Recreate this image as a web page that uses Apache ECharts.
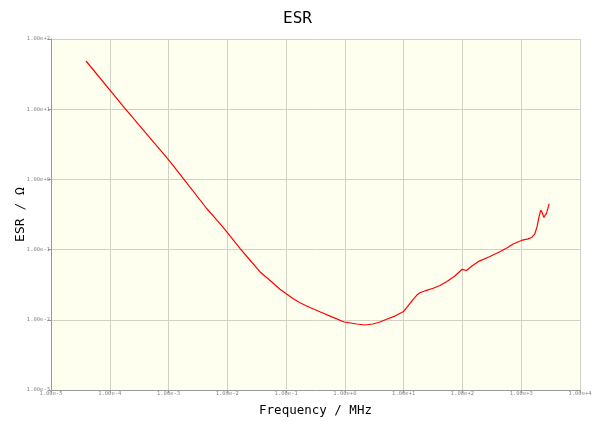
<!DOCTYPE html>
<html>
<head>
<meta charset="utf-8">
<script src="https://cdn.jsdelivr.net/npm/echarts@6/dist/echarts.min.js"></script>
<style>html,body{margin:0;padding:0;background:#fff}#c{width:595px;height:421px}</style>
</head>
<body>
<div id="c"></div>
<script>
// Frequency (MHz) and ESR (Ohm)
var freqMHz = [3.94e-5, 1.81e-4, 1.02e-3, 1.76e-3, 4.45e-3, 7.0e-3, 9.73e-3, 0.0164, 0.0242, 0.0358, 0.0597, 0.0785, 0.0993, 0.1306, 0.172, 0.254, 0.376, 0.601, 0.973, 1.60, 2.19, 2.99, 3.94, 5.12, 7.08, 9.80, 11.8, 14.5, 16.8, 18.9, 23.9, 31.8, 41.3, 53.7, 74.3, 98.9, 117, 145, 185, 281, 433, 569, 728, 1010, 1310, 1510, 1700, 1860, 2010, 2150, 2290, 2420, 2690, 2980];
var esrOhm  = [48.6, 10.3, 1.86, 1.04, 0.385, 0.251, 0.180, 0.1044, 0.0711, 0.0484, 0.0334, 0.0272, 0.0237, 0.0201, 0.0175, 0.0150, 0.0130, 0.0110, 0.00931, 0.00871, 0.00843, 0.00871, 0.00931, 0.0102, 0.0113, 0.0130, 0.0157, 0.0196, 0.0225, 0.0243, 0.0261, 0.0281, 0.0308, 0.0349, 0.0421, 0.0524, 0.0504, 0.0583, 0.0673, 0.0785, 0.0933, 0.1054, 0.120, 0.135, 0.142, 0.149, 0.167, 0.212, 0.294, 0.366, 0.332, 0.288, 0.329, 0.447];
var titleText = 'ESR';
var xName = 'Frequency / MHz';
var yName = 'ESR / \u03A9';

var pts = freqMHz.map(function (f, i) { return [f, esrOhm[i]]; });
var mono = 'DejaVu Sans Mono';
var fmt = function (v) { return Number(v).toExponential(2); };
var chart = echarts.init(document.getElementById('c'), null, {renderer: 'canvas'});
chart.setOption({
  animation: false,
  backgroundColor: '#ffffff',
  title: {text: titleText, left: 'center', top: 6, textStyle: {fontFamily: mono, fontSize: 16, fontWeight: 'normal', color: '#000'}},
  grid: {left: 51, right: 15, top: 39, bottom: 31, show: true, backgroundColor: '#fffff0', borderWidth: 0, containLabel: false, outerBoundsMode: 'none'},
  xAxis: {
    type: 'log', logBase: 10, min: 1e-5, max: 1e4, interval: 1,
    name: xName, nameLocation: 'middle', nameGap: 14,
    nameTextStyle: {fontFamily: mono, fontSize: 12.5, color: '#000'},
    axisLine: {lineStyle: {color: '#999999', width: 1}},
    axisTick: {show: true, length: 3, lineStyle: {color: '#999999'}},
    axisLabel: {formatter: fmt, fontFamily: mono, fontSize: 5.5, color: '#888888', margin: 1},
    splitLine: {show: true, lineStyle: {color: '#d2d2c4', width: 1}},
    minorTick: {show: false}
  },
  yAxis: {
    type: 'log', logBase: 10, min: 1e-3, max: 1e2, interval: 1,
    name: yName, nameLocation: 'middle', nameGap: 24, nameRotate: 90, nameMoveOverlap: false,
    nameTextStyle: {fontFamily: mono, fontSize: 13, color: '#000'},
    axisLine: {show: true, lineStyle: {color: '#999999', width: 1}},
    axisTick: {show: true, length: 3, lineStyle: {color: '#999999'}},
    axisLabel: {formatter: fmt, fontFamily: mono, fontSize: 5.5, color: '#888888', margin: 1},
    splitLine: {show: true, lineStyle: {color: '#d2d2c4', width: 1}}
  },
  series: [{
    type: 'line', data: pts, showSymbol: false, symbol: 'none',
    lineStyle: {color: '#ff0000', width: 1.2}, smooth: false
  }]
});
</script>
</body>
</html>
